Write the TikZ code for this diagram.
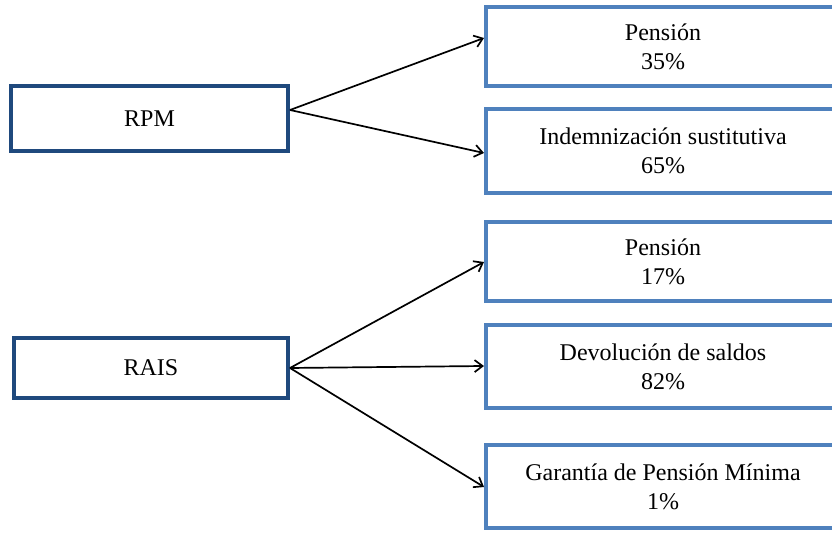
\documentclass[tikz,border=0pt]{standalone}
\usepackage{fontspec}
\setmainfont{Liberation Serif}
\usetikzlibrary{arrows.meta}
\definecolor{darkbox}{RGB}{31,73,125}
\definecolor{lightbox}{RGB}{79,129,189}
\tikzset{
  srcbox/.style={draw=darkbox, line width=2pt, fill=white, inner sep=0pt, align=center,
    font=\fontsize{12}{14.5}\selectfont},
  dstbox/.style={draw=lightbox, line width=2pt, fill=white, inner sep=0pt, align=center,
    minimum width=177pt, font=\fontsize{12}{14.5}\selectfont},
  link/.style={line width=0.85pt, -{Straight Barb[length=4pt,width=6pt]}}
}
\begin{document}
\begin{tikzpicture}[x=0.5pt,y=-0.5pt]
\clip (0,0) rectangle (832,533);
\fill[white] (0,0) rectangle (832,533);
\node[srcbox, minimum width=138.5pt, minimum height=32.5pt] (rpm) at (149.5,118.5) {RPM};
\node[srcbox, minimum width=137pt, minimum height=30pt] (rais) at (151,368) {RAIS};
\node[dstbox, minimum height=39.5pt] (p1) at (663,46.5) {Pensión\\35\%};
\node[dstbox, minimum height=42pt] (p2) at (663,151) {Indemnización sustitutiva\\65\%};
\node[dstbox, minimum height=39.5pt] (p3) at (663,261.5) {Pensión\\17\%};
\node[dstbox, minimum height=41.5pt] (p4) at (663,366.5) {Devolución de saldos\\82\%};
\node[dstbox, minimum height=41.5pt] (p5) at (663,486.5) {Garantía de Pensión Mínima\\1\%};
\coordinate (rpmout) at (rpm.east |- 0,110);
\coordinate (raisout) at (rais.east |- 0,368);
\coordinate (in1) at (p1.west |- 0,38);
\coordinate (in2) at (p2.west |- 0,153);
\coordinate (in3) at (p3.west |- 0,262);
\coordinate (in4) at (p4.west |- 0,366);
\coordinate (in5) at (p5.west |- 0,487);
\draw[link] (rpmout) -- (in1);
\draw[link] (rpmout) -- (in2);
\draw[link] (raisout) -- (in3);
\draw[link] (raisout) -- (in4);
\draw[link] (raisout) -- (in5);
\end{tikzpicture}
\end{document}
